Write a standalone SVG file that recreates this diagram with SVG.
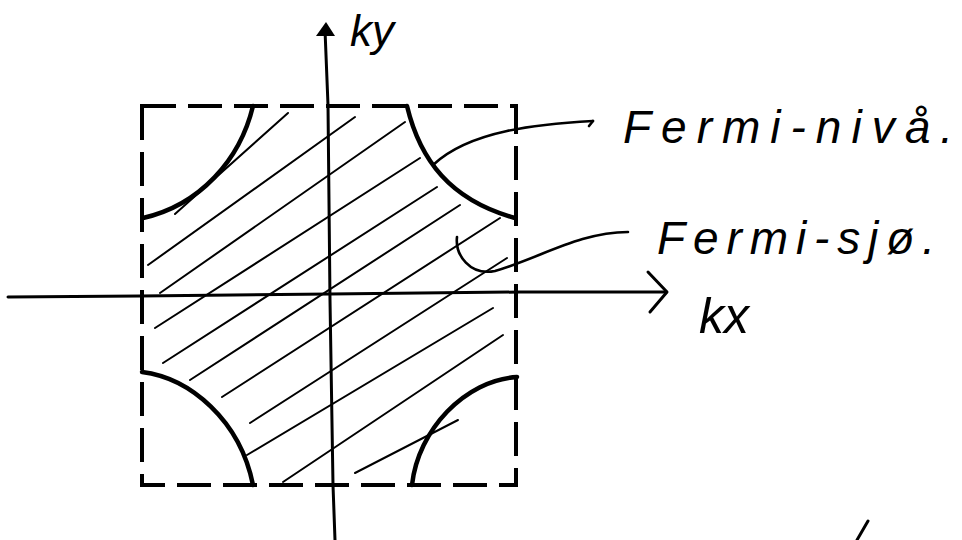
<svg xmlns="http://www.w3.org/2000/svg" width="962" height="540" viewBox="0 0 962 540">
<style>
.bg{fill:#ffffff}
.box{fill:none;stroke:#000;stroke-width:4;stroke-dasharray:34 12;stroke-linecap:butt}
.arc{fill:none;stroke:#000;stroke-width:4.5;stroke-linecap:round}
.axis{fill:none;stroke:#000;stroke-width:3;stroke-linecap:round;stroke-linejoin:round}
.hatch{fill:none;stroke:#000;stroke-width:2;stroke-linecap:round}
.lead{fill:none;stroke:#000;stroke-width:2.6;stroke-linecap:round;stroke-linejoin:round}
.lbl{font-family:"Liberation Sans","DejaVu Sans",sans-serif;font-style:italic;fill:#000}
</style>
<rect class="bg" x="0" y="0" width="962" height="540"/>

<g id="brillouin-zone">
  <path class="box" d="M142,106 L516,106 L516,485 L142,485 Z"/>
</g>

<g id="fermi-sea-hatching">
  <line class="hatch" x1="175" y1="214" x2="288" y2="113"/>
  <line class="hatch" x1="148" y1="265" x2="355" y2="117"/>
  <line class="hatch" x1="160" y1="293" x2="405" y2="122"/>
  <line class="hatch" x1="155" y1="328" x2="420" y2="158"/>
  <line class="hatch" x1="163" y1="363" x2="437" y2="187"/>
  <line class="hatch" x1="190" y1="380" x2="460" y2="205"/>
  <line class="hatch" x1="222" y1="397" x2="500" y2="218"/>
  <line class="hatch" x1="250" y1="423" x2="507" y2="258"/>
  <line class="hatch" x1="247" y1="455" x2="493" y2="308"/>
  <line class="hatch" x1="283" y1="482" x2="503" y2="335"/>
  <line class="hatch" x1="355" y1="473" x2="458" y2="420"/>
</g>

<g id="fermi-level-arcs">
  <path class="arc" d="M253,106 C240,160 200,205 143,218"/>
  <path class="arc" d="M407,106 C420,160 450,200 515,218"/>
  <path class="arc" d="M142,372 C190,378 240,420 253,485"/>
  <path class="arc" d="M412,485 C418,430 465,380 517,377"/>
</g>

<g id="axis-ky">
  <path class="axis" d="M325,30 L328,105 L330,300 L333,485 L335,540"/>
  <polygon points="326,22 316,36 335,36" fill="#000"/>
  <text class="lbl" x="350" y="46" font-size="44">ky</text>
</g>

<g id="axis-kx">
  <path class="axis" d="M8,297 L140,296 L330,294 L520,292 L666,292"/>
  <path class="axis" d="M648,272 L667,292 L650,312"/>
  <text class="lbl" x="699" y="333" font-size="50">kx</text>
</g>

<g id="label-fermi-niva">
  <text class="lbl" x="623" y="143" font-size="46" textLength="330" lengthAdjust="spacing">Fermi-nivå.</text>
</g>

<g id="label-fermi-sjo">
  <text class="lbl" x="657" y="254" font-size="46" textLength="278" lengthAdjust="spacing">Fermi-sjø.</text>
</g>

<g id="connectors">
  <path class="lead" d="M593,121 C540,124 470,130 433,165"/>
  <path class="lead" d="M593,121 L589,126"/>
  <path class="lead" d="M628,232 C580,232 540,258 495,271 C470,276 455,255 457,237"/>
</g>

<g id="stray-mark">
  <line class="axis" x1="868" y1="521" x2="857" y2="540"/>
</g>
</svg>
